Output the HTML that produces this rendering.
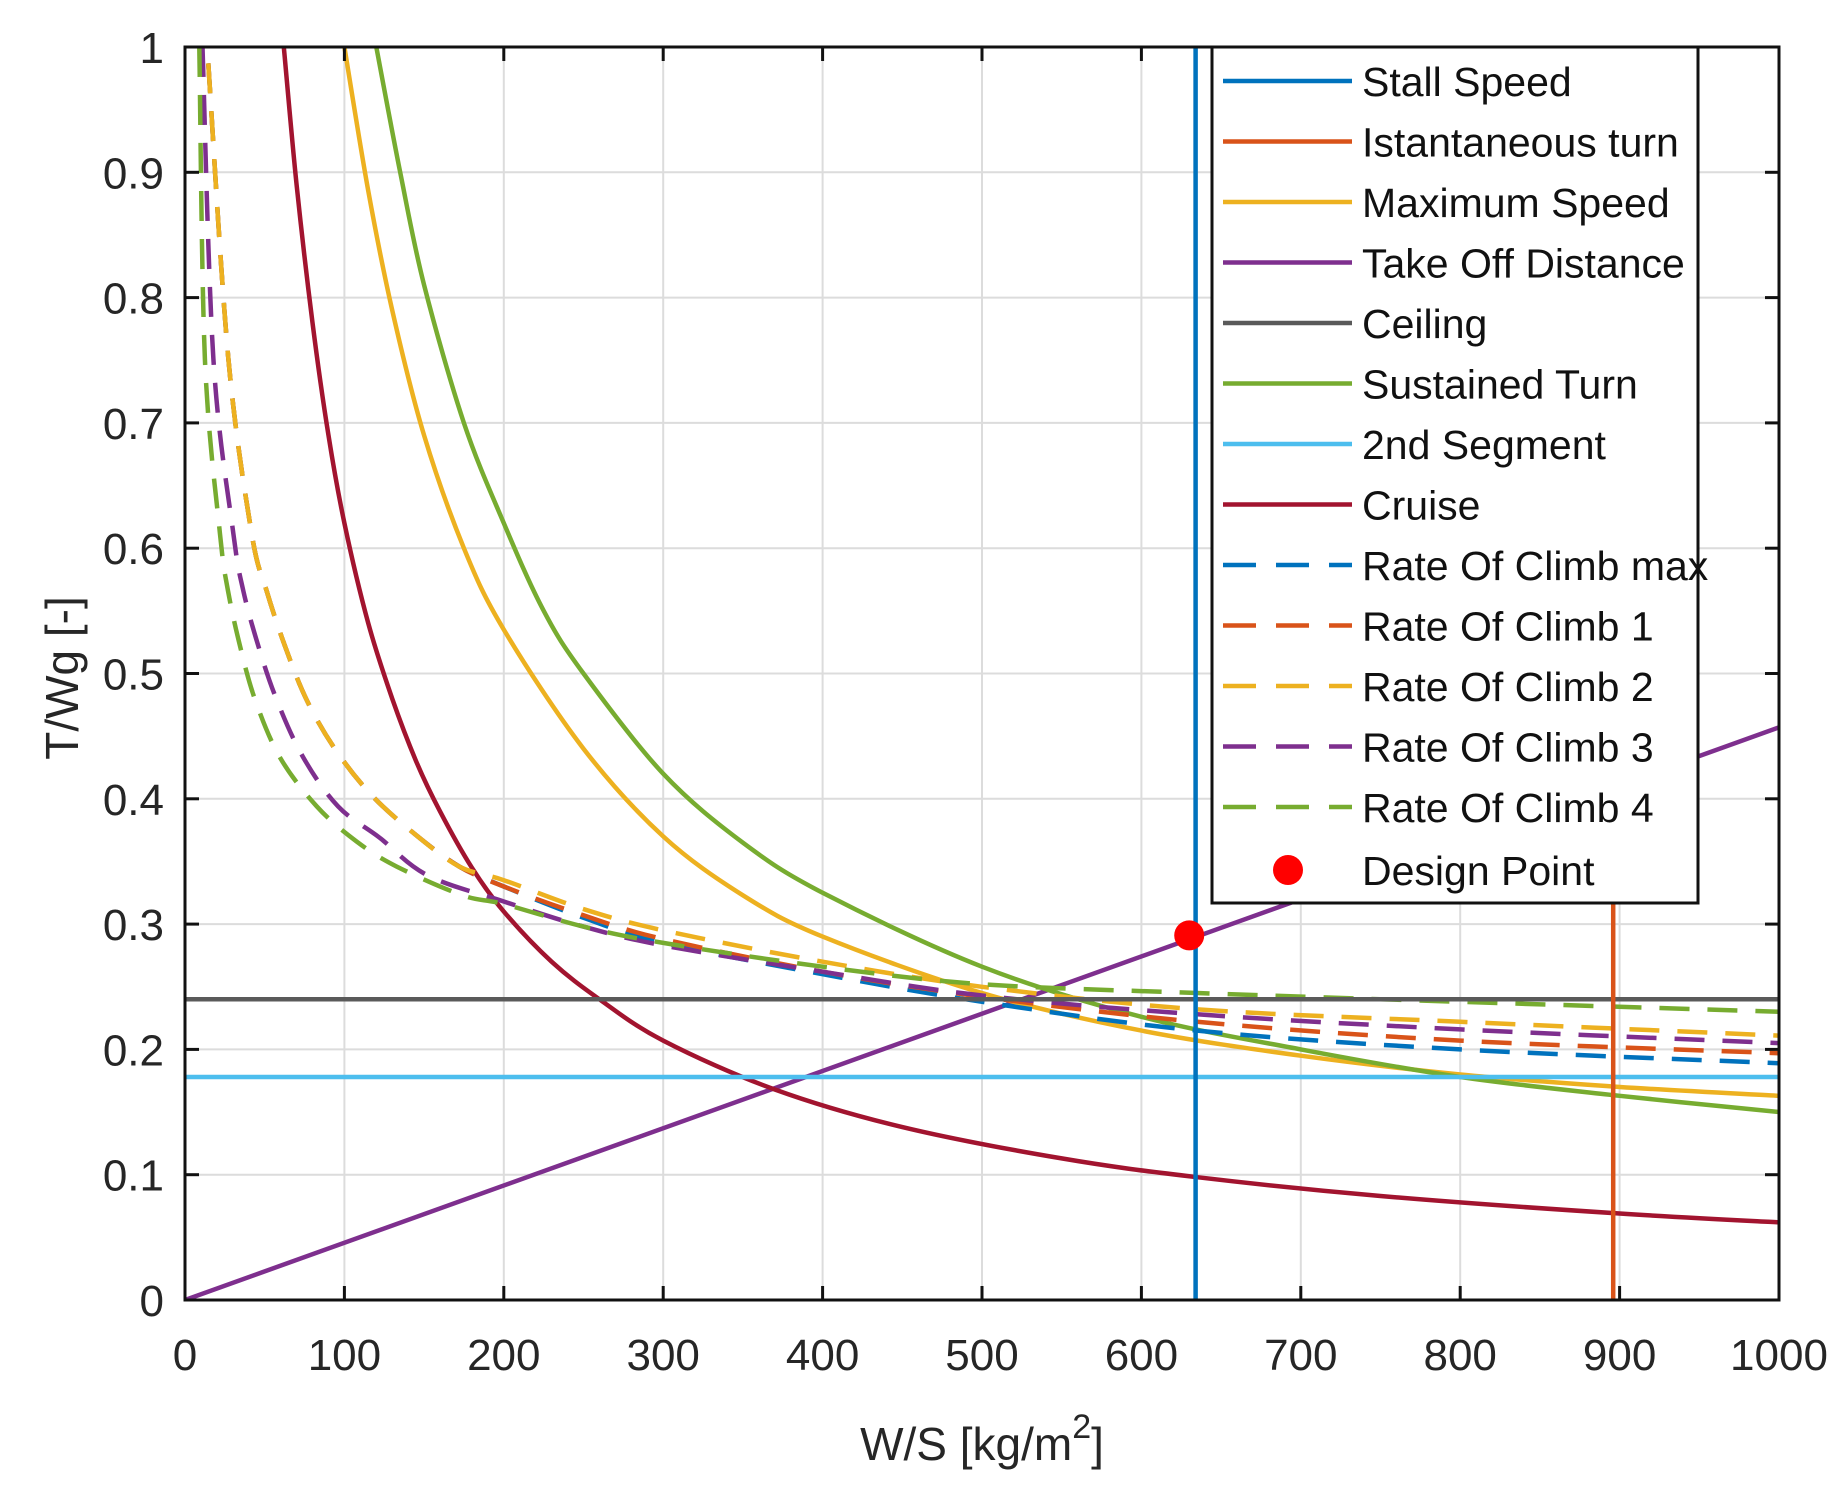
<!DOCTYPE html>
<html><head><meta charset="utf-8"><style>
html,body{margin:0;padding:0;background:#fff}
svg{display:block;font-family:"Liberation Sans",Arial,sans-serif}
</style></head><body>
<svg id="chart" width="1848" height="1488" viewBox="0 0 1848 1488" xmlns="http://www.w3.org/2000/svg">
<rect width="1848" height="1488" fill="#fff"/>
<g id="grid"></g>
<g id="series"></g>
<g id="axes"></g>
<g id="legend"></g>
</svg>
<script>
// ---- data ----
const xTicks = [0,100,200,300,400,500,600,700,800,900,1000];
const yTicks = [0,0.1,0.2,0.3,0.4,0.5,0.6,0.7,0.8,0.9,1];
const stallX = 634;
const instTurnX = 896;
const ceilingY = 0.24;
const secondSegY = 0.178;
const takeoffX = [0, 1000];
const takeoffY = [0, 0.457];
const cruiseX = [62,70,80,90,100,115,130,145,160,180,200,230,260,300,370,450,550,635,750,900,1000];
const cruiseY = [1,0.89,0.78,0.69,0.62,0.54,0.48,0.43,0.39,0.345,0.31,0.27,0.24,0.207,0.168,0.138,0.113,0.098,0.083,0.069,0.062];
const maxSpeedX = [100,115,130,150,175,200,250,300,350,400,500,600,700,800,900,1000];
const maxSpeedY = [1,0.885,0.79,0.69,0.6,0.535,0.44,0.37,0.323,0.29,0.245,0.215,0.195,0.18,0.17,0.163];
const sustTurnX = [120,135,150,175,200,225,250,300,350,400,500,600,700,800,900,1000];
const sustTurnY = [1,0.9,0.81,0.70,0.62,0.55,0.50,0.42,0.365,0.325,0.266,0.226,0.2,0.178,0.163,0.15];
const rocAX = [14.6,27.2,41.8,51.2,62.7,76.3,94,117,145,172,200,250,300,400,500,635,800,1000];
const rocMaxY = [0.987,0.751,0.612,0.566,0.522,0.479,0.44,0.403,0.371,0.346,0.33,0.305,0.285,0.26,0.238,0.215,0.2,0.189];
const roc1Y   = [0.987,0.751,0.612,0.566,0.522,0.479,0.44,0.403,0.371,0.346,0.33,0.307,0.288,0.262,0.242,0.222,0.207,0.197];
const roc2Y   = [0.987,0.751,0.612,0.566,0.522,0.479,0.44,0.403,0.371,0.346,0.335,0.312,0.295,0.27,0.25,0.232,0.222,0.211];
const roc3X = [11,17.8,30.3,36.6,46,57.5,74.2,96,122,152,200,250,300,400,500,635,800,1000];
const roc3Y = [1,0.751,0.612,0.566,0.522,0.479,0.433,0.394,0.369,0.339,0.318,0.298,0.283,0.262,0.243,0.228,0.216,0.205];
const roc4X = [9,12.5,21.9,27,34.5,44,59.6,82.6,107.6,132.7,174,200,250,300,400,500,635,800,1000];
const roc4Y = [1,0.751,0.612,0.566,0.522,0.479,0.433,0.394,0.366,0.346,0.323,0.316,0.298,0.285,0.266,0.252,0.245,0.238,0.230];
const designX = [630];
const designY = [0.291];
const legendLabels = ["Stall Speed","Istantaneous turn","Maximum Speed","Take Off Distance","Ceiling","Sustained Turn","2nd Segment","Cruise","Rate Of Climb max","Rate Of Climb 1","Rate Of Climb 2","Rate Of Climb 3","Rate Of Climb 4","Design Point"];

// ---- layout ----
const L=185,R=1779,T=47,B=1300;
const sx=v=>L+(v/1000)*(R-L);
const sy=v=>B-v*(B-T);
const NS="http://www.w3.org/2000/svg";
function mk(tag,parent,attrs){const e=document.createElementNS(NS,tag);for(const k in attrs)e.setAttribute(k,attrs[k]);parent.appendChild(e);return e;}
const gGrid=document.getElementById('grid'),gS=document.getElementById('series'),gA=document.getElementById('axes'),gL=document.getElementById('legend');

xTicks.forEach(v=>{const l=mk('line',gGrid,{x1:sx(v),x2:sx(v),y1:T,y2:B,stroke:'#dcdcdc','stroke-width':2});

});
yTicks.forEach(v=>{const l=mk('line',gGrid,{x1:L,x2:R,y1:sy(v),y2:sy(v),stroke:'#dcdcdc','stroke-width':2});

});

const C={blue:'#0072BD',orange:'#D95319',yellow:'#EDB120',purple:'#7E2F8E',gray:'#5a5a5a',green:'#77AC30',cyan:'#4DBEEE',red:'#A2142F'};
function smoothPath(xs,ys){
  const P=xs.map((x,i)=>[sx(x),sy(ys[i])]);
  if(P.length<3)return 'M'+P.map(p=>p[0].toFixed(1)+','+p[1].toFixed(1)).join('L');
  let d='M'+P[0][0].toFixed(1)+','+P[0][1].toFixed(1);
  for(let i=0;i<P.length-1;i++){
    const p0=P[i-1]||P[i],p1=P[i],p2=P[i+1],p3=P[i+2]||P[i+1];
    const c1=[p1[0]+(p2[0]-p0[0])/6,p1[1]+(p2[1]-p0[1])/6];
    const c2=[p2[0]-(p3[0]-p1[0])/6,p2[1]-(p3[1]-p1[1])/6];
    d+='C'+c1.map(v=>v.toFixed(1)).join(',')+' '+c2.map(v=>v.toFixed(1)).join(',')+' '+p2.map(v=>v.toFixed(1)).join(',');
  }
  return d;
}
function poly(xs,ys,color,dash,name){
  const p=mk('path',gS,{d:smoothPath(xs,ys),fill:'none',stroke:color,'stroke-width':4.5,'stroke-linejoin':'round'});
  if(dash)p.setAttribute('stroke-dasharray','30 18');
  
  
}
const clip=mk('clipPath',document.getElementById('chart'),{id:'pc'});mk('rect',clip,{x:L,y:T,width:R-L,height:B-T});
gS.setAttribute('clip-path','url(#pc)');
poly(takeoffX,takeoffY,C.purple,false,'take-off-distance-line');
poly(cruiseX,cruiseY,C.red,false,'cruise-curve');
poly(maxSpeedX,maxSpeedY,C.yellow,false,'maximum-speed-curve');
poly(sustTurnX,sustTurnY,C.green,false,'sustained-turn-curve');
poly(rocAX,rocMaxY,C.blue,true,'rate-of-climb-max-curve');
poly(rocAX,roc1Y,C.orange,true,'rate-of-climb-1-curve');
poly(rocAX,roc2Y,C.yellow,true,'rate-of-climb-2-curve');
poly(roc3X,roc3Y,C.purple,true,'rate-of-climb-3-curve');
poly(roc4X,roc4Y,C.green,true,'rate-of-climb-4-curve');
poly([0,1000],[ceilingY,ceilingY],C.gray,false,'ceiling-line');
poly([0,1000],[secondSegY,secondSegY],C.cyan,false,'second-segment-line');
poly([stallX,stallX],[0,1],C.blue,false,'stall-speed-line');
poly([instTurnX,instTurnX],[0,1],C.orange,false,'instantaneous-turn-line');
designX.forEach((x,i)=>{const c=mk('circle',gS,{cx:sx(x),cy:sy(designY[i]),r:15,fill:'#ff0000'});

});

// axes
const box=mk('rect',gA,{x:L,y:T,width:R-L,height:B-T,fill:'none',stroke:'#111','stroke-width':3});


xTicks.forEach(v=>{
  mk('line',gA,{x1:sx(v),x2:sx(v),y1:B,y2:B-14,stroke:'#111','stroke-width':3});
  mk('line',gA,{x1:sx(v),x2:sx(v),y1:T,y2:T+14,stroke:'#111','stroke-width':3});
  const t=mk('text',gA,{x:sx(v),y:1370,'text-anchor':'middle','font-size':44,fill:'#262626'});t.textContent=v;
  
  
});
yTicks.forEach(v=>{
  mk('line',gA,{x1:L,x2:L+14,y1:sy(v),y2:sy(v),stroke:'#111','stroke-width':3});
  mk('line',gA,{x1:R,x2:R-14,y1:sy(v),y2:sy(v),stroke:'#111','stroke-width':3});
  const t=mk('text',gA,{x:164,y:sy(v)+16,'text-anchor':'end','font-size':44,fill:'#262626'});t.textContent=(v===0||v===1)?String(v):v.toFixed(1);
  
  
});
const yt=mk('text',gA,{x:0,y:0,transform:'translate(78,678) rotate(-90)','text-anchor':'middle','font-size':46,fill:'#262626'});yt.textContent='T/Wg [-]';


const xt=mk('text',gA,{x:982,y:1460,'text-anchor':'middle','font-size':46,fill:'#262626'});


xt.appendChild(document.createTextNode('W/S [kg/m'));
const sup=mk('tspan',xt,{dy:-22,'font-size':34});sup.textContent='2';
const cl=mk('tspan',xt,{dy:22});cl.textContent=']';

// legend
const lb=mk('rect',gL,{x:1212,y:47,width:486,height:856,fill:'#fff',stroke:'#111','stroke-width':3});


const legColors=[C.blue,C.orange,C.yellow,C.purple,C.gray,C.green,C.cyan,C.red,C.blue,C.orange,C.yellow,C.purple,C.green];
legendLabels.forEach((lab,i)=>{
  const y=i<13?81+i*60.5:870;
  const g=mk('g',gL,{});
  
  
  if(i<13){const ln=mk('line',g,{x1:1223,x2:1352,y1:y,y2:y,stroke:legColors[i],'stroke-width':4.5});if(i>=8)ln.setAttribute('stroke-dasharray','33 20');}
  else mk('circle',g,{cx:1288,cy:y,r:15,fill:'#ff0000'});
  const t=mk('text',g,{x:1362,y:y+15,'font-size':41,fill:'#111'});t.textContent=lab;
});
</script>
</body></html>
